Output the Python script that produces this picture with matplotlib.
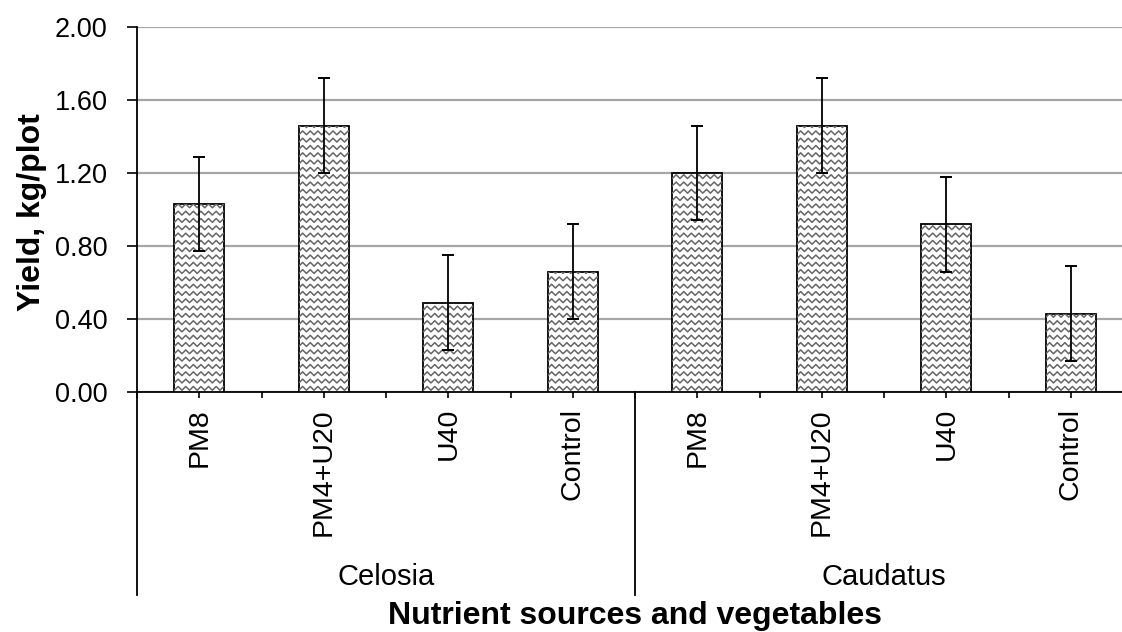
import numpy as np
import matplotlib
matplotlib.use("Agg")
import matplotlib.pyplot as plt
from matplotlib.transforms import blended_transform_factory

plt.rcParams['font.family'] = ['Liberation Sans', 'DejaVu Sans']

# Data
groups = ["Celosia", "Caudatus"]
treatments = ["PM8", "PM4+U20", "U40", "Control"]
celosia_yield = [1.03, 1.46, 0.49, 0.66]
caudatus_yield = [1.20, 1.46, 0.92, 0.43]
celosia_err = [0.26, 0.26, 0.26, 0.26]
caudatus_err = [0.26, 0.26, 0.26, 0.26]
y_ticks = [0.00, 0.40, 0.80, 1.20, 1.60, 2.00]

values = celosia_yield + caudatus_yield
errors = celosia_err + caudatus_err
labels = treatments * len(groups)
x = np.arange(len(values))

W, H = 1122, 632
fig = plt.figure(figsize=(W / 100, H / 100), dpi=100)
# axes spans past the right edge, as in the cropped original
ax = fig.add_axes([137 / W, (H - 392) / H, 996 / W, 365 / H])

bars = ax.bar(x, values, width=0.4, color="white", edgecolor="black",
              linewidth=1.3, zorder=3)
ax.errorbar(x, values, yerr=errors, fmt="none", ecolor="black",
            elinewidth=1.3, capsize=4.5, capthick=1.4, zorder=5)

ax.set_xlim(-0.5, len(values) - 0.5)
ax.set_ylim(0, 2.0)
ax.set_yticks(y_ticks)
ax.set_yticklabels([f"{v:.2f}" for v in y_ticks], fontsize=19.5)
ax.yaxis.grid(True, color="#a6a6a6", linewidth=1.6, zorder=0)
ax.set_axisbelow(True)

ax.set_xticks(x)
ax.set_xticklabels(labels, rotation=90, fontsize=20.5, va="top")
ax.set_xticks(np.arange(len(values) + 1) - 0.5, minor=True)
ax.tick_params(axis="x", which="both", length=4.5, width=1.2, pad=7)
ax.tick_params(axis="y", length=7, width=1.2, pad=14)

for s in ["top", "right"]:
    ax.spines[s].set_visible(False)
ax.spines["left"].set_linewidth(1.3)
ax.spines["bottom"].set_linewidth(1.3)

# zigzag hatch, clipped to each bar
fig.canvas.draw()
p0 = ax.transData.transform((0, 0))
p1 = ax.transData.transform((1, 1))
px_x, px_y = p1[0] - p0[0], p1[1] - p0[1]
half = 3.8 / px_x
row = 7.3 / px_y
amp = 1.9 / px_y
for b in bars:
    x0, x1 = b.get_x(), b.get_x() + b.get_width()
    xs = np.arange(x0 - half, x1 + 2 * half, half)
    for yy in np.arange(row / 2, b.get_height() + row, row):
        ys = yy + amp * np.where(np.arange(len(xs)) % 2 == 0, 1, -1)
        ln, = ax.plot(xs, ys, color="#666666", linewidth=1.1, zorder=4)
        ln.set_clip_path(b)

# group separators and group names below the axis
tr = blended_transform_factory(ax.transData, ax.transAxes)
n = len(treatments)
for i in range(len(groups) + 1):
    ax.plot([i * n - 0.5] * 2, [0, -0.556], color="black", linewidth=1.3,
            transform=tr, clip_on=False)
for i, g in enumerate(groups):
    ax.text(i * n + (n - 1) / 2, -0.508, g, transform=tr, ha="center",
            va="center", fontsize=21)

fig.text(32 / W, 1 - 212 / H, "Yield, kg/plot", rotation=90, ha="center",
         va="center", fontsize=23, fontweight="bold")
ax.text(0.5, -0.655, "Nutrient sources and vegetables", transform=ax.transAxes,
        ha="center", va="bottom", fontsize=23, fontweight="bold")

fig.savefig("out.png", dpi=100)
